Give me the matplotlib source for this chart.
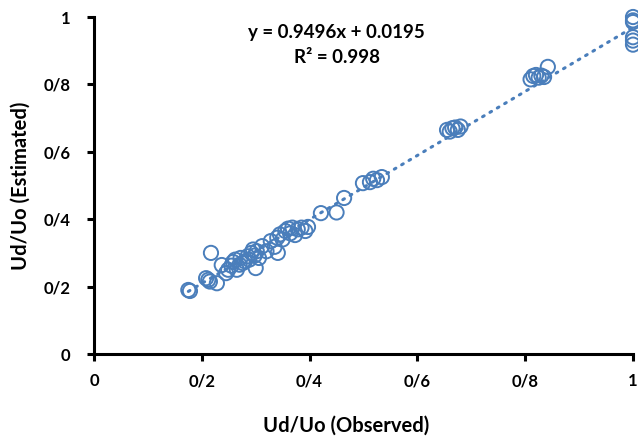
import matplotlib
matplotlib.use('Agg')
import matplotlib.pyplot as plt
import numpy as np
from matplotlib.ticker import FuncFormatter

# Observed vs estimated Ud/Uo
observed = [0.175, 0.178, 0.208, 0.212, 0.215, 0.217, 0.228, 0.237, 0.245, 0.249,
            0.255, 0.258, 0.262, 0.265, 0.270, 0.272, 0.276, 0.280, 0.285, 0.288,
            0.292, 0.295, 0.298, 0.300, 0.302, 0.306, 0.312, 0.320, 0.328, 0.335,
            0.340, 0.341, 0.345, 0.350, 0.355, 0.360, 0.364, 0.368, 0.373, 0.378,
            0.385, 0.392, 0.397, 0.421, 0.450, 0.464, 0.499, 0.512, 0.518, 0.525,
            0.534, 0.655, 0.660, 0.665, 0.670, 0.675, 0.680, 0.810, 0.815, 0.820,
            0.825, 0.830, 0.835, 0.842, 1.0, 1.0, 1.0, 1.0, 1.0, 1.0]
estimated = [0.190, 0.187, 0.225, 0.220, 0.215, 0.300, 0.210, 0.264, 0.240, 0.250,
             0.262, 0.273, 0.280, 0.250, 0.265, 0.285, 0.270, 0.275, 0.290, 0.280,
             0.300, 0.310, 0.292, 0.255, 0.305, 0.285, 0.320, 0.305, 0.335, 0.318,
             0.345, 0.300, 0.355, 0.340, 0.365, 0.372, 0.358, 0.375, 0.353, 0.370,
             0.375, 0.365, 0.377, 0.418, 0.420, 0.463, 0.507, 0.510, 0.520, 0.516,
             0.525, 0.665, 0.660, 0.670, 0.672, 0.665, 0.675, 0.815, 0.825, 0.828,
             0.820, 0.826, 0.822, 0.852, 1.0, 0.99, 0.985, 0.94, 0.93, 0.918]

slope = 0.9496
intercept = 0.0195
r2 = 0.998

blue = '#4a7ebb'
font = 'Lato'

fig = plt.figure(figsize=(6.38, 4.36), dpi=100)
ax = fig.add_axes([94 / 638, 82 / 436, 539 / 638, 337 / 436])

ax.scatter(observed, estimated, s=105, facecolors='none', edgecolors=blue,
           linewidths=1.4, clip_on=False, zorder=3)

# linear trendline over the data range
xs = np.array([min(observed), max(observed)])
ax.plot(xs, slope * xs + intercept, color=blue, linewidth=2.2,
        linestyle=(0, (0.6, 2.2)), dash_capstyle='round', zorder=2)

ax.text(0.45, 0.955, f'y = {slope}x + {intercept}', ha='center', va='center',
        fontsize=13.5, fontweight='bold', family=font)
ax.text(0.45, 0.88, f'R² = {r2}', ha='center', va='center',
        fontsize=13.5, fontweight='bold', family=font)

ax.set_xlim(0, 1)
ax.set_ylim(0, 1)
ticks = [0, 0.2, 0.4, 0.6, 0.8, 1.0]
ax.set_xticks(ticks)
ax.set_yticks(ticks)


def fmt(v, pos):
    if abs(v) < 1e-9:
        return '0'
    if abs(v - 1) < 1e-9:
        return '1'
    return '0/' + str(int(round(v * 10)))


ax.xaxis.set_major_formatter(FuncFormatter(fmt))
ax.yaxis.set_major_formatter(FuncFormatter(fmt))

for side in ['top', 'right']:
    ax.spines[side].set_visible(False)
for side in ['left', 'bottom']:
    ax.spines[side].set_linewidth(2.2)
    ax.spines[side].set_color('black')

ax.tick_params(axis='x', direction='out', length=5, width=2.2, pad=9)
ax.tick_params(axis='y', direction='out', length=5, width=2.2, pad=12)
for lbl in ax.get_xticklabels() + ax.get_yticklabels():
    lbl.set_fontsize(12)
    lbl.set_fontweight('bold')
    lbl.set_family(font)

ax.set_xlabel('Ud/Uo (Observed)', fontsize=14.5, fontweight='bold', family=font)
ax.set_ylabel('Ud/Uo (Estimated)', fontsize=14.5, fontweight='bold', family=font)
ax.xaxis.set_label_coords(0.468, -0.182)
ax.yaxis.set_label_coords(-0.118, 0.50)

fig.savefig('out.png', dpi=100)
